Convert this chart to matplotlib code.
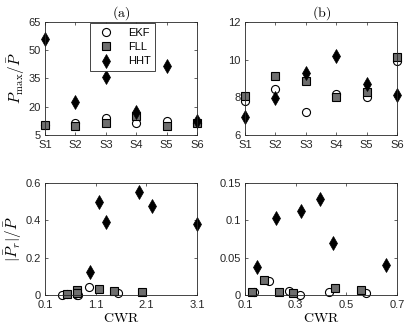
import numpy as np
import matplotlib
matplotlib.use("Agg")
import matplotlib.pyplot as plt

plt.rcParams['font.family'] = ['Liberation Sans', 'DejaVu Sans']
plt.rcParams['mathtext.fontset'] = 'cm'
plt.rcParams['font.size'] = 8

signals = ["S1", "S2", "S3", "S4", "S5", "S6"]

# (a) Pmax / Pbar
ekf_a = [10.3, 11.2, 13.8, 11.2, 12.4, 11.5]
fll_a = [10.3, 9.9, 11.2, 15.1, 9.8, 11.5]
hht_a = [56.2, 22.5, 35.7, 17.4, 41.9, 12.6]

# (b)
ekf_b = [7.8, 8.44, 7.21, 8.16, 8.02, 9.95]
fll_b = [8.07, 9.14, 8.88, 8.02, 8.26, 10.16]
hht_b = [6.93, 7.96, 9.28, 10.21, 8.72, 8.12]

# (c) |Pr|/Pbar vs CWR
ekf_c_x = [0.44, 0.54, 0.73, 0.75, 0.97, 1.53]
ekf_c_y = [0.002, 0.003, 0.0, 0.002, 0.040, 0.012]
fll_c_x = [0.53, 0.74, 0.74, 1.17, 1.46, 2.02]
fll_c_y = [0.003, 0.027, 0.010, 0.033, 0.021, 0.017]
hht_c_x = [0.98, 1.17, 1.31, 1.95, 2.21, 3.1]
hht_c_y = [0.123, 0.50, 0.39, 0.552, 0.475, 0.379]

# (d)
ekf_d_x = [0.136, 0.195, 0.273, 0.316, 0.430, 0.579]
ekf_d_y = [0.0045, 0.019, 0.0053, 0.0, 0.0036, 0.0027]
fll_d_x = [0.129, 0.176, 0.236, 0.291, 0.456, 0.556]
fll_d_y = [0.0045, 0.020, 0.0045, 0.003, 0.009, 0.0067]
hht_d_x = [0.146, 0.223, 0.322, 0.397, 0.449, 0.655]
hht_d_y = [0.038, 0.103, 0.113, 0.129, 0.070, 0.040]

ekf_style = dict(marker='o', ms=5.8, mfc='white', mec='black', mew=0.8, ls='none', clip_on=False)
fll_style = dict(marker='s', ms=5.2, mfc='#6e6e6e', mec='black', mew=0.8, ls='none', clip_on=False)
hht_style = dict(marker='d', ms=6.8, mfc='black', mec='black', mew=0.5, ls='none', clip_on=False)

fig = plt.figure(figsize=(4.09, 3.34), dpi=100)
ax1 = fig.add_axes([0.110, 0.596, 0.372, 0.338])
ax2 = fig.add_axes([0.599, 0.596, 0.372, 0.338])
ax3 = fig.add_axes([0.110, 0.117, 0.372, 0.335])
ax4 = fig.add_axes([0.599, 0.117, 0.372, 0.335])

pos = np.arange(1, len(signals) + 1)

for ax, e, f, h in [(ax1, ekf_a, fll_a, hht_a), (ax2, ekf_b, fll_b, hht_b)]:
    ax.plot(pos, e, label='EKF', **ekf_style)
    ax.plot(pos, f, label='FLL', **fll_style)
    ax.plot(pos, h, label='HHT', **hht_style)
    ax.set_xlim(1, 6)
    ax.set_xticks(pos)
    ax.set_xticklabels(signals)

ax1.set_ylim(5, 65)
ax1.set_yticks([5, 20, 35, 50, 65])
ax2.set_ylim(6, 12)
ax2.set_yticks([6, 8, 10, 12])
ax1.set_title(r'$\mathrm{(a)}$', fontsize=10, pad=4)
ax2.set_title(r'$\mathrm{(b)}$', fontsize=10, pad=4)
ax1.set_ylabel(r'$P_{\max}/\bar{P}$', fontsize=11, labelpad=1)

for ax, ex, ey, fx, fy, hx, hy in [
        (ax3, ekf_c_x, ekf_c_y, fll_c_x, fll_c_y, hht_c_x, hht_c_y),
        (ax4, ekf_d_x, ekf_d_y, fll_d_x, fll_d_y, hht_d_x, hht_d_y)]:
    ax.plot(ex, ey, **ekf_style)
    ax.plot(fx, fy, **fll_style)
    ax.plot(hx, hy, **hht_style)
    ax.set_xlabel(r'$\mathrm{CWR}$', fontsize=10, labelpad=1)

ax3.set_xlim(0.1, 3.1)
ax3.set_xticks([0.1, 1.1, 2.1, 3.1])
ax3.set_ylim(0, 0.6)
ax3.set_yticks([0, 0.2, 0.4, 0.6])
ax3.set_yticklabels(['0', '0.2', '0.4', '0.6'])
ax3.set_ylabel(r'$|\bar{P}_r|/\bar{P}$', fontsize=11, labelpad=1)
ax4.set_xlim(0.1, 0.7)
ax4.set_xticks([0.1, 0.3, 0.5, 0.7])
ax4.set_ylim(0, 0.15)
ax4.set_yticks([0, 0.05, 0.1, 0.15])
ax4.set_yticklabels(['0', '0.05', '0.1', '0.15'])

for ax in [ax1, ax2, ax3, ax4]:
    ax.tick_params(direction='in', top=True, right=True, length=2.5, width=0.5,
                   colors='#262626', labelsize=8)
    ax.tick_params(axis='x', pad=3.5)
    ax.tick_params(axis='y', pad=3)
    for s in ax.spines.values():
        s.set_linewidth(0.6)
        s.set_color('#262626')

leg = ax1.legend(loc='upper left', bbox_to_anchor=(0.29, 1.0), fontsize=8,
                 fancybox=False, edgecolor='#262626', framealpha=1,
                 handletextpad=1.0, borderpad=0.4, labelspacing=0.4,
                 handlelength=2.0, borderaxespad=0.1)
leg.get_frame().set_linewidth(0.6)

fig.savefig('out.png', dpi=100)
